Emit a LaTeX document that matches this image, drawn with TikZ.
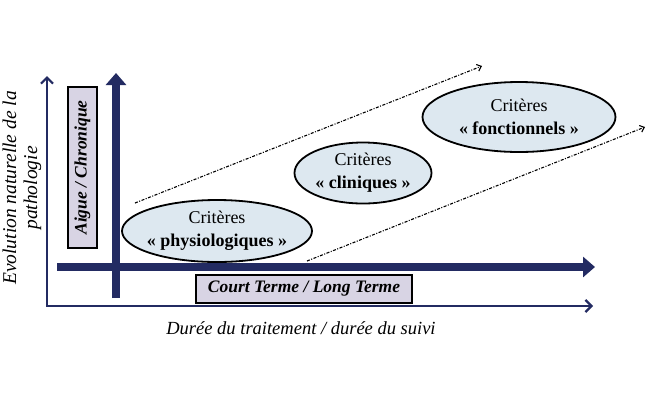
\documentclass[tikz,border=0pt]{standalone}
\usepackage{fontspec}
\setmainfont{Liberation Serif}
\usetikzlibrary{arrows.meta,shapes.geometric}
\definecolor{navy}{RGB}{35,43,98}
\definecolor{lavande}{RGB}{216,212,228}
\definecolor{ciel}{RGB}{221,232,240}

\tikzset{
  critere/.style={ellipse, draw=black, line width=1.8pt, fill=ciel, align=center, inner sep=-15pt, font=\fontsize{18}{23}\selectfont},
  etiquette/.style={draw=black, line width=1.2pt, fill=lavande, inner sep=0pt, font=\fontsize{17.5}{19}\selectfont\bfseries\itshape},
  axe/.style={navy, line width=2.2pt, line join=miter},
  grosaxe/.style={navy, line width=8pt, -{Triangle[length=12pt,width=20pt]}},
  tendance/.style={line width=1.1pt, dash pattern=on 3pt off 1.5pt on 1pt off 1.5pt, -{Straight Barb[length=4pt,width=7pt]}}
}

\begin{document}
\begin{tikzpicture}[x=1pt, y=-1pt]
\useasboundingbox[fill=white] (0,0) rectangle (655,400);
% axes
\coordinate (origine) at (47,306);
\coordinate (haut) at (47,76);
\coordinate (droite) at (593,306);
\draw[axe, {Straight Barb[length=6pt,width=12pt]}-{Straight Barb[length=6pt,width=12pt]}] (haut) -- (origine) -- (droite);
\coordinate (bas2) at (116,298);
\coordinate (haut2) at (116,73);
\coordinate (gauche2) at (57,267);
\coordinate (droite2) at (595,267);
\draw[grosaxe] (gauche2) -- (droite2);
\draw[grosaxe] (bas2) -- (haut2);
% tendances
\coordinate (t1a) at (135,203);
\coordinate (t1b) at (482,66);
\coordinate (t2a) at (307,261);
\coordinate (t2b) at (645,127);
\draw[tendance] (t1a) -- (t1b);
\draw[tendance] (t2a) -- (t2b);
% criteres
\node[critere, minimum width=190pt, minimum height=62pt] (physio) at (217,231) {Critères\\\textbf{« physiologiques »}};
\node[critere, minimum width=137pt, minimum height=61pt] (clin) at (363,173) {Critères\\\textbf{« cliniques »}};
\node[critere, minimum width=193pt, minimum height=70pt] (fonct) at (519,117) {Critères\\\textbf{« fonctionnels »}};
% etiquettes
\node[etiquette, rotate=90, minimum width=161pt, minimum height=29pt] (aigue) at (82.5,167.5) {Aigue / Chronique};
\node[etiquette, minimum width=216pt, minimum height=28pt] (terme) at (304,289) {Court Terme / Long Terme};
\node[rotate=90, align=center, font=\fontsize{19.5}{21}\selectfont\itshape] (evol) at (22,188) {Evolution naturelle de la\\pathologie};
\node[font=\fontsize{18.5}{20}\selectfont\itshape] (duree) at (301,328) {Durée du traitement / durée du suivi};
\end{tikzpicture}
\end{document}
